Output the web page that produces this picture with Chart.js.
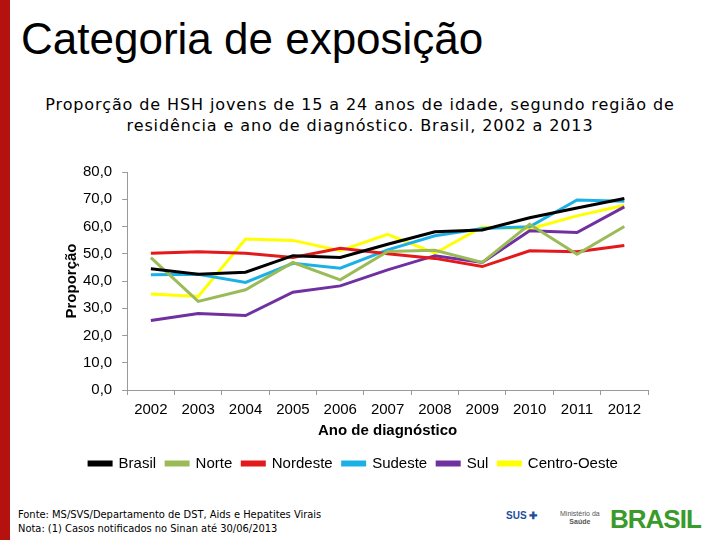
<!DOCTYPE html>
<html>
<head>
<meta charset="utf-8">
<script src="https://cdn.jsdelivr.net/npm/chart.js@4.4.0/dist/chart.umd.min.js"></script>
<style>
  body { margin: 0; width: 720px; height: 540px; background: #fff; position: relative; overflow: hidden; font-family: "Liberation Sans", Arial, sans-serif; }
  #bar { position: absolute; left: 0; top: 0; width: 10px; height: 540px; background: #b5120f; }
  #title { position: absolute; left: 21px; top: 14px; font-size: 44px; color: #000; }
  #sub { position: absolute; left: 10px; width: 700px; top: 94px; text-align: center; font-family: "DejaVu Sans", sans-serif; font-size: 16px; letter-spacing: 0.9px; line-height: 21px; color: #000; }
  #wrap { position: absolute; left: 20px; top: 153px; width: 660px; height: 328px; }
  #foot { position: absolute; left: 18px; top: 508px; font-family: "DejaVu Sans Condensed", "DejaVu Sans", sans-serif; font-size: 11px; line-height: 14px; color: #000; }
  .sus { position: absolute; left: 506px; top: 510px; font: bold 10px "Liberation Sans", sans-serif; color: #1f4e9e; }
  .ms { position: absolute; left: 560px; top: 510px; font: 7px "Liberation Sans", sans-serif; color: #555; text-align: center; line-height: 8px; }
  .br { position: absolute; left: 610px; top: 504px; font: bold 26px "Liberation Sans", sans-serif; color: #3a9a2a; letter-spacing: -1px; }
</style>
</head>
<body>
<div id="bar"></div>
<div id="title">Categoria de exposição</div>
<div id="sub">Proporção de HSH jovens de 15 a 24 anos de idade, segundo região de<br>residência e ano de diagnóstico. Brasil, 2002 a 2013</div>
<div id="wrap"><canvas id="chart1"></canvas></div>
<div id="foot">Fonte: MS/SVS/Departamento de DST, Aids e Hepatites Virais<br>Nota: (1) Casos notificados no Sinan até 30/06/2013</div>
<div class="sus">SUS ✚</div>
<div class="ms">Ministério da<br><b>Saúde</b></div>
<div class="br">BRASIL</div>
<script>
const years = ['2002', '2003', '2004', '2005', '2006', '2007', '2008', '2009', '2010', '2011', '2012'];
const brasil = [44.5, 42.5, 43.2, 49.3, 48.6, 53.5, 58.1, 58.7, 63.2, 66.8, 70.3];
const norte = [48.6, 32.5, 36.8, 46.8, 40.4, 50.8, 51.3, 46.8, 60.8, 49.8, 60.0];
const nordeste = [50.2, 50.7, 50.2, 48.6, 52.0, 50.0, 48.3, 45.3, 51.1, 50.7, 53.0];
const sudeste = [42.3, 42.5, 39.5, 46.5, 44.7, 51.4, 56.6, 59.3, 59.9, 69.7, 69.3];
const sul = [25.5, 28.1, 27.3, 35.9, 38.2, 44.1, 49.3, 46.8, 58.4, 57.8, 67.2];
const centroOeste = [35.2, 34.3, 55.4, 54.9, 51.1, 57.1, 50.2, 59.8, 59.1, 63.9, 67.8];

function series(label, color, data) {
    return {
        label: label,
        borderColor: color,
        backgroundColor: color,
        borderWidth: 3,
        radius: 0,
        tension: 0,
        data: data,
    };
}

const config = {
    type: 'line',
    data: {
        labels: years,
        datasets: [
            series('Brasil', '#000000', brasil),
            series('Norte', '#9bbb59', norte),
            series('Nordeste', '#e3191b', nordeste),
            series('Sudeste', '#1cb1e6', sudeste),
            series('Sul', '#7030a0', sul),
            series('Centro-Oeste', '#ffff00', centroOeste)
        ]
    },
    options: {
        responsive: false,
        animation: false,
        layout: { padding: { left: 39, right: 32, top: 17, bottom: 0 } },
        plugins: {
            legend: {
                position: 'bottom',
                labels: {
                    color: '#000',
                    boxWidth: 22,
                    boxHeight: 3,
                    padding: 10,
                    font: { size: 15, family: 'Liberation Sans' }
                }
            },
            tooltip: { enabled: false }
        },
        scales: {
            x: {
                offset: true,
                grid: { display: true, drawOnChartArea: false, offset: true, color: '#999', tickLength: 5 },
                border: { color: '#999' },
                ticks: { color: '#000', padding: 6, font: { size: 15, family: 'Liberation Sans' } },
                title: { display: true, text: 'Ano de diagnóstico', color: '#000', padding: { top: -3, bottom: 6 }, font: { size: 15, weight: 'bold', family: 'Liberation Sans' } }
            },
            y: {
                min: 0,
                max: 80,
                grid: { display: true, drawOnChartArea: false, color: '#999', tickLength: 5 },
                border: { color: '#999' },
                ticks: {
                    stepSize: 10,
                    color: '#000',
                    padding: 10,
                    font: { size: 15, family: 'Liberation Sans' },
                    callback: v => v.toFixed(1).replace('.', ',')
                },
                title: { display: true, text: 'Proporção', color: '#000', padding: { top: 4, bottom: -8 }, font: { size: 15, weight: 'bold', family: 'Liberation Sans' } }
            }
        }
    }
};

const canvas = document.getElementById('chart1');
canvas.width = 660;
canvas.height = 328;
const chart1 = new Chart(canvas.getContext('2d'), config);
</script>
</body>
</html>
